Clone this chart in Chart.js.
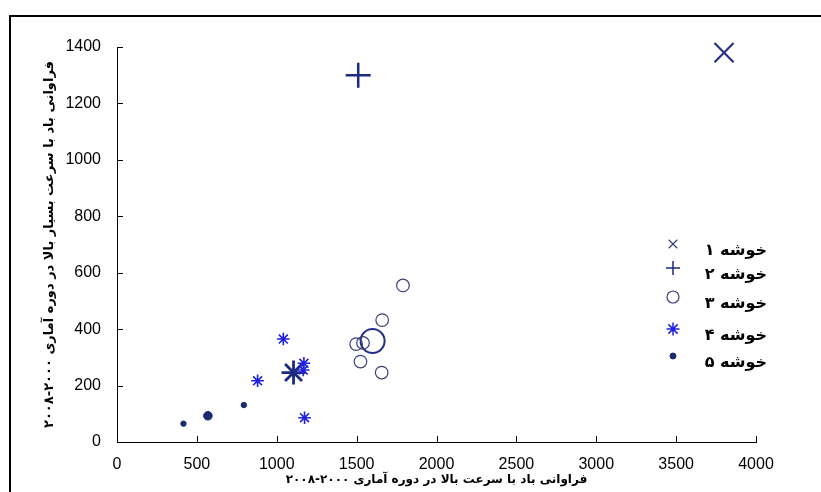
<!DOCTYPE html>
<html>
<head>
<meta charset="utf-8">
<script src="https://cdn.jsdelivr.net/npm/chart.js@4"></script>
<style>
  body { margin: 0; background: #fff; }
  #frame { position: absolute; left: 9px; top: 15px; width: 830px; height: 500px;
           border-left: 2px solid #000; border-top: 2px solid #000; }
  canvas { position: absolute; left: 0; top: 0; direction: rtl; }
</style>
</head>
<body>
<div id="frame"></div>
<canvas id="clusterChart" width="821" height="492" dir="rtl"></canvas>
<script>
const clusterNames = ['خوشه ۱', 'خوشه ۲', 'خوشه ۳', 'خوشه ۴', 'خوشه ۵'];

const xTicks = [0, 500, 1000, 1500, 2000, 2500, 3000, 3500, 4000];
const yTicks = [0, 200, 400, 600, 800, 1000, 1200, 1400];

// members of each cluster
const c3X = [1790, 1660, 1497, 1540, 1524, 1657];
const c3Y = [555, 432, 347, 351, 285, 246];
const c4X = [1041, 880, 1170, 1166, 1174];
const c4Y = [365, 217, 279, 255, 86];
const c5X = [416, 794];
const c5Y = [65, 131];

// cluster centres (big markers)
const centerX = [3800, 1510, 1600, 1105, 569];
const centerY = [1380, 1300, 358, 246, 93];

const xLabel = 'فراوانی باد با سرعت بالا در دوره آماری ٢٠٠٠-٢٠٠٨';
const yLabel = 'فراوانی باد با سرعت بسیار بالا در دوره آماری ٢٠٠٠-٢٠٠٨';

const pts = (xs, ys) => xs.map((x, i) => ({ x: x, y: ys[i] }));

Chart.defaults.font.family = '"Liberation Sans Narrow", "Liberation Sans", Arial, sans-serif';
Chart.defaults.color = '#000';

// legend markers, one per cluster
const legendStyles = [
    { style: 'crossRot', r: 6, w: 1.2, color: '#3a3f78', fill: false },
    { style: 'cross', r: 7, w: 1.5, color: '#1c2a80', fill: false },
    { style: 'circle', r: 6, w: 1.2, color: '#3a3f78', fill: false },
    { style: 'star', r: 6.5, w: 1.5, color: '#1f1fe0', fill: false },
    { style: 'circle', r: 3, w: 1, color: '#1c2a70', fill: true }
];
const legendRowsY = [244, 268, 297, 329, 356];

const matlabLook = {
    id: 'matlabLook',
    afterDraw(chart) {
        const ctx = chart.ctx;
        const xs = chart.scales.x, ys = chart.scales.y;
        ctx.save();
        ctx.strokeStyle = '#000';
        ctx.lineWidth = 1;
        ctx.beginPath();
        xs.ticks.forEach(t => {
            const px = Math.round(xs.getPixelForValue(t.value)) + 0.5;
            ctx.moveTo(px, xs.top);
            ctx.lineTo(px, xs.top - 6);
        });
        ys.ticks.forEach(t => {
            const py = Math.round(ys.getPixelForValue(t.value)) + 0.5;
            ctx.moveTo(ys.right, py);
            ctx.lineTo(ys.right + 6, py);
        });
        ctx.stroke();

        // legend
        ctx.font = 'bold 16px "DejaVu Sans", sans-serif';
        ctx.textAlign = 'right';
        ctx.textBaseline = 'middle';
        clusterNames.forEach((name, i) => {
            const s = legendStyles[i];
            const y = legendRowsY[i];
            ctx.strokeStyle = s.color;
            ctx.fillStyle = s.fill ? s.color : 'rgba(0,0,0,0)';
            ctx.lineWidth = s.w;
            Chart.helpers.drawPoint(ctx, { pointStyle: s.style, radius: s.r, borderWidth: s.w }, 673, y);
            ctx.fillStyle = '#000';
            ctx.fillText(name, 767, y + 7);
        });
        ctx.restore();
    }
};

new Chart(document.getElementById('clusterChart'), {
    type: 'scatter',
    data: {
        datasets: [
            { data: pts(c3X, c3Y), pointStyle: 'circle', pointRadius: 6.3, borderColor: '#3a3f78', backgroundColor: 'transparent', borderWidth: 1.2 },
            { data: pts(c4X, c4Y), pointStyle: 'star', pointRadius: 6.3, borderColor: '#1f1fe0', backgroundColor: 'transparent', borderWidth: 1.6 },
            { data: pts(c5X, c5Y), pointStyle: 'circle', pointRadius: 2.7, borderColor: '#1c2a70', backgroundColor: '#1c2a70', borderWidth: 1 },
            { data: [{ x: centerX[0], y: centerY[0] }], pointStyle: 'crossRot', pointRadius: 13.5, borderColor: '#28318a', borderWidth: 2.2 },
            { data: [{ x: centerX[1], y: centerY[1] }], pointStyle: 'cross', pointRadius: 12.5, borderColor: '#1c2a80', borderWidth: 2.5 },
            { data: [{ x: centerX[2], y: centerY[2] }], pointStyle: 'circle', pointRadius: 12, borderColor: '#23308a', backgroundColor: 'transparent', borderWidth: 2 },
            { data: [{ x: centerX[3], y: centerY[3] }], pointStyle: 'star', pointRadius: 12, borderColor: '#1c2a80', borderWidth: 2.8 },
            { data: [{ x: centerX[4], y: centerY[4] }], pointStyle: 'circle', pointRadius: 4.3, borderColor: '#1c2a70', backgroundColor: '#1c2a70', borderWidth: 1 }
        ]
    },
    options: {
        responsive: false,
        animation: false,
        clip: false,
        layout: { padding: { left: 0, top: 47, right: 65, bottom: 0 } },
        plugins: {
            legend: { display: false },
            tooltip: { enabled: false }
        },
        scales: {
            x: {
                type: 'linear',
                min: xTicks[0],
                max: xTicks[xTicks.length - 1],
                afterBuildTicks: s => { s.ticks = xTicks.map(v => ({ value: v })); },
                afterFit: s => { s.height = 50; },
                grid: { display: false },
                border: { display: true, color: '#000', width: 1 },
                ticks: { font: { size: 16 }, padding: 5, color: '#000', callback: v => String(v) },
                title: { display: true, text: xLabel, font: { family: '"DejaVu Sans", sans-serif', size: 12, weight: 'bold' }, padding: { top: 0, bottom: 5 } }
            },
            y: {
                type: 'linear',
                min: yTicks[0],
                max: yTicks[yTicks.length - 1],
                afterBuildTicks: s => { s.ticks = yTicks.map(v => ({ value: v })); },
                afterFit: s => { s.width = 117; },
                grid: { display: false },
                border: { display: true, color: '#000', width: 1 },
                ticks: { font: { size: 16 }, padding: 8, color: '#000', callback: v => String(v) },
                title: { display: true, text: yLabel, font: { family: '"DejaVu Sans", sans-serif', size: 13, weight: 'bold' }, padding: { top: 42, bottom: 0 } }
            }
        }
    },
    plugins: [matlabLook]
});
</script>
</body>
</html>
